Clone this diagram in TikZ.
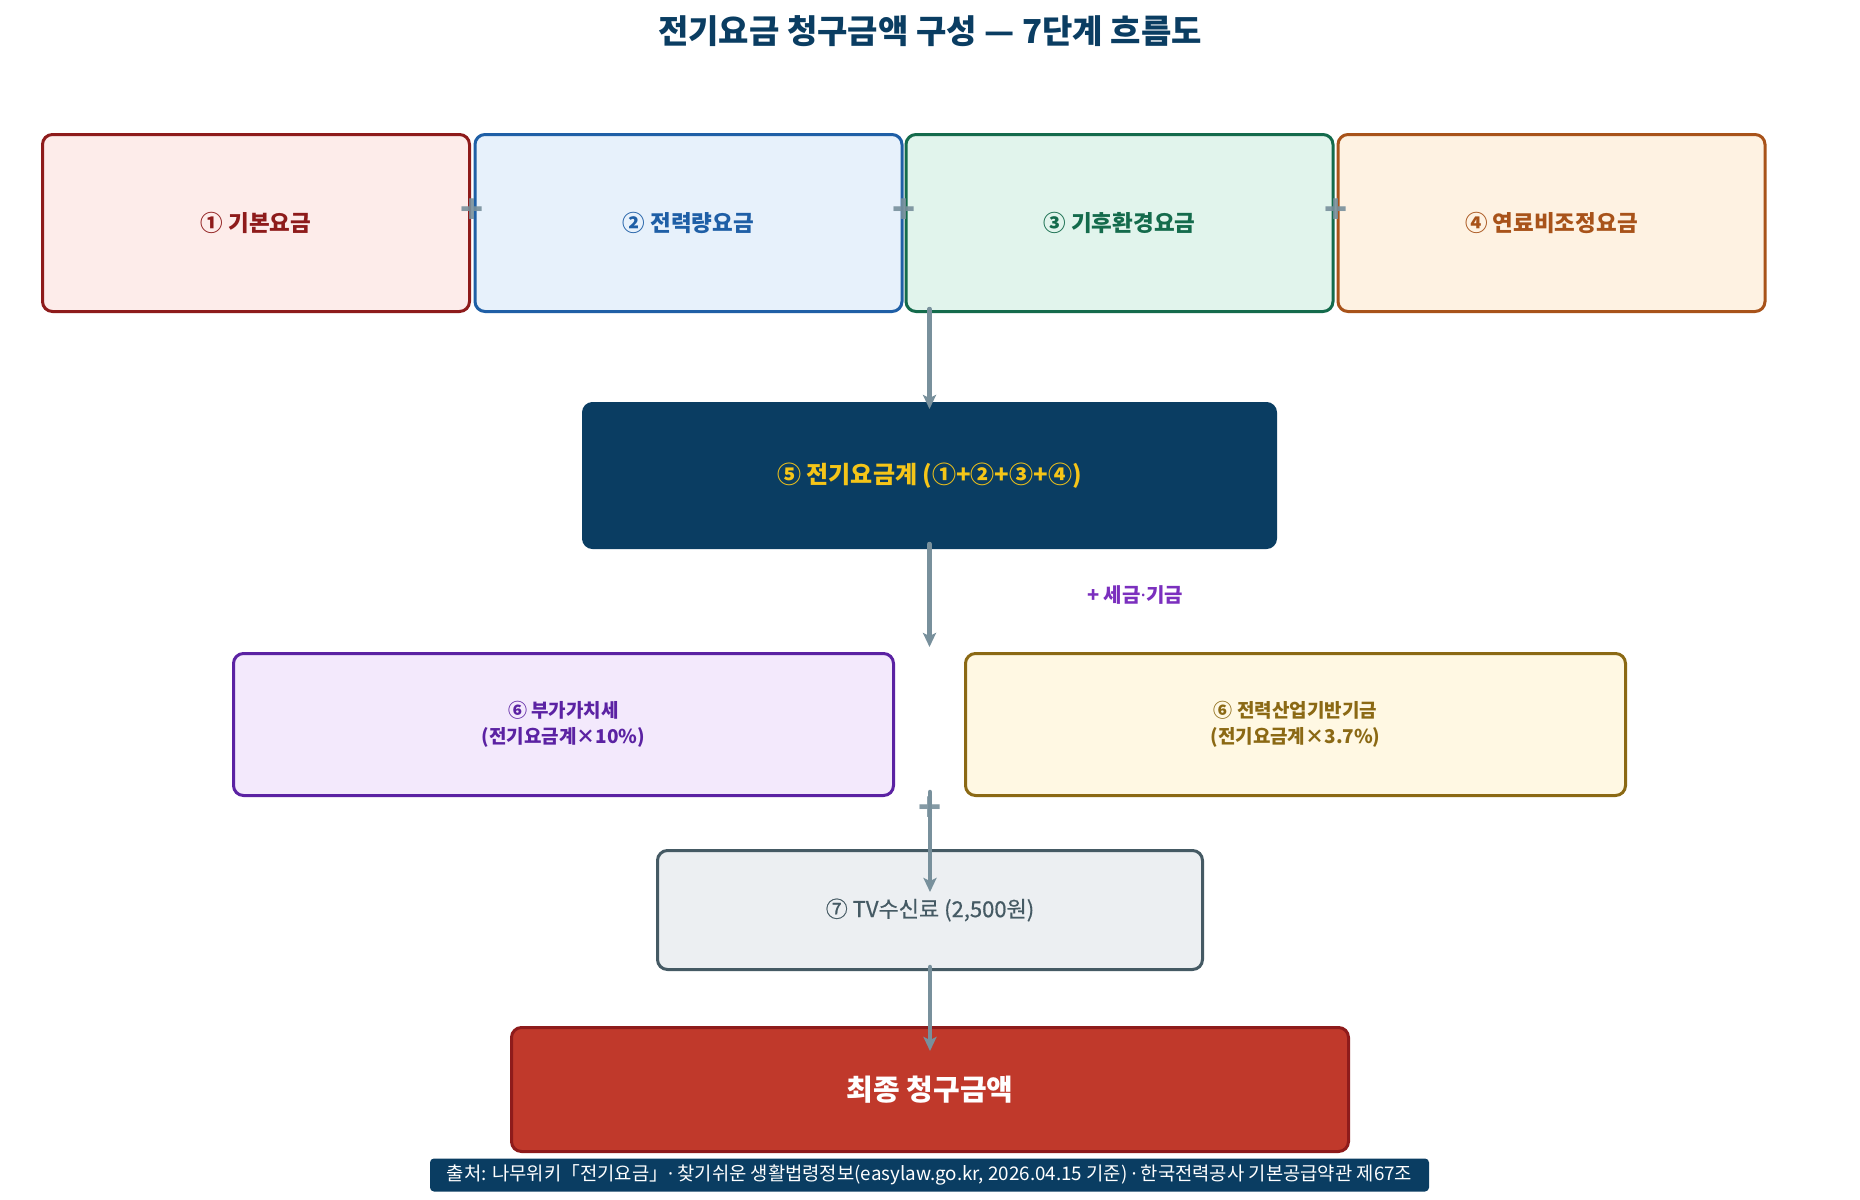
\documentclass[tikz,border=0pt]{standalone}
\usepackage{fontspec}
\setmainfont{Noto Sans CJK KR}
\newfontfamily\latinfont{Noto Sans}
\usetikzlibrary{arrows.meta}
\definecolor{navy}{HTML}{0A3D62}
\definecolor{gold}{HTML}{F5C518}
\definecolor{arrowgray}{HTML}{78909C}
\definecolor{redD}{HTML}{8E1B1B}\definecolor{redL}{HTML}{FDECEA}
\definecolor{blueD}{HTML}{1F5FA6}\definecolor{blueL}{HTML}{E7F1FB}
\definecolor{greenD}{HTML}{146B4C}\definecolor{greenL}{HTML}{E1F4EC}
\definecolor{orangeD}{HTML}{A8531A}\definecolor{orangeL}{HTML}{FEF2E2}
\definecolor{purpD}{HTML}{5B22A3}\definecolor{purpL}{HTML}{F3E9FC}
\definecolor{purpT}{HTML}{7B2FBE}
\definecolor{ochreD}{HTML}{8B6914}\definecolor{ochreL}{HTML}{FFF8E3}
\definecolor{slateD}{HTML}{455A64}\definecolor{slateL}{HTML}{ECEFF2}
\definecolor{finalF}{HTML}{C0392B}
\newcommand{\fs}[2]{\fontsize{#1}{#2}\selectfont}
\newcommand{\mdot}{{\latinfont ·}}
\tikzset{
  card/.style={draw, line width=3pt, rounded corners=10pt, align=center, inner sep=0pt},
  toprow/.style={card, minimum width=427pt, minimum height=177pt, font=\fs{22.5}{28}\bfseries},
  arr/.style={draw=arrowgray, line width=4.5pt, line cap=round, -{Stealth[length=14pt,width=13pt,inset=3pt]}},
  plusmark/.style={text=arrowgray, opacity=0.9, font=\fs{38}{44}\bfseries, inner sep=0pt},
}
\begin{document}
\begin{tikzpicture}[x=1pt,y=-1pt]
\useasboundingbox[fill=white] (0,0) rectangle (1860,1199);

\node[text=navy, font=\fs{33}{40}\bfseries] (title) at (930,31) {전기요금 청구금액 구성 — 7단계 흐름도};

\node[toprow, draw=redD, fill=redL, text=redD] (b1) at (256,223) {\raisebox{-2pt}{① 기본요금}};
\node[toprow, draw=blueD, fill=blueL, text=blueD] (b2) at (688.5,223) {\raisebox{-2pt}{② 전력량요금}};
\node[toprow, draw=greenD, fill=greenL, text=greenD] (b3) at (1119.5,223) {\raisebox{-2pt}{③ 기후환경요금}};
\node[toprow, draw=orangeD, fill=orangeL, text=orangeD] (b4) at (1551.5,223) {\raisebox{-2pt}{④ 연료비조정요금}};

\node[plusmark] (p1) at (472,211) {+};
\node[plusmark] (p2) at (904,211) {+};
\node[plusmark] (p3) at (1336,211) {+};

\node[card, draw=navy, line width=1pt, fill=navy, text=gold, minimum width=694pt, minimum height=146pt, font=\fs{24}{30}\bfseries] (b5) at (929.5,475.5) {\raisebox{-3pt}{⑤ 전기요금계 (①+②+③+④)}};

\node[text=purpT, font=\fs{20}{25}\bfseries] (tax) at (1135,595) {+ 세금{\latinfont\bfseries ·}기금};

\node[card, draw=purpD, fill=purpL, text=purpD, minimum width=660pt, minimum height=142pt, font=\fs{19}{26}\bfseries] (b6a) at (563.5,724.5) {⑥ 부가가치세\\(전기요금계×10\%)};
\node[card, draw=ochreD, fill=ochreL, text=ochreD, minimum width=660pt, minimum height=142pt, font=\fs{19}{26}\bfseries] (b6b) at (1295.5,724.5) {⑥ 전력산업기반기금\\(전기요금계×3.7\%)};

\node[card, draw=slateD, fill=slateL, text=slateD, minimum width=545pt, minimum height=119pt, font=\fs{22}{27}\addfontfeature{FakeBold=0.6}] (b7) at (930,910) {\raisebox{-2pt}{⑦ TV수신료 (2,500원)}};

\node[card, draw=redD, fill=finalF, text=white, minimum width=837pt, minimum height=124pt, font=\fs{29}{35}\bfseries] (fin) at (930,1089.5) {\raisebox{-2pt}{최종 청구금액}};

\node[fill=navy, rounded corners=4pt, text=white, minimum width=999pt, minimum height=33pt, inner sep=0pt, font=\fs{18.8}{22}] (src) at (929.5,1175) {출처: 나무위키「전기요금」\mdot{} 찾기쉬운 생활법령정보(easylaw.go.kr, 2026.04.15 기준) \mdot{} 한국전력공사 기본공급약관 제67조};

\draw[arr] ([yshift=4pt]b3.south -| b5.north) -- ([yshift=-7pt]b5.north);
\draw[arr] ([yshift=5pt]b5.south) -- ([yshift=5pt]b5.south |- b6a.north);
\draw[arr] ([yshift=5pt]b6a.south -| b7.north) -- ([yshift=-43pt]b7.north);
\node[plusmark] (p4) at (930,809) {+};
\draw[arr] ([yshift=4pt]b7.south) -- ([yshift=-25pt]fin.north);
\end{tikzpicture}
\end{document}
